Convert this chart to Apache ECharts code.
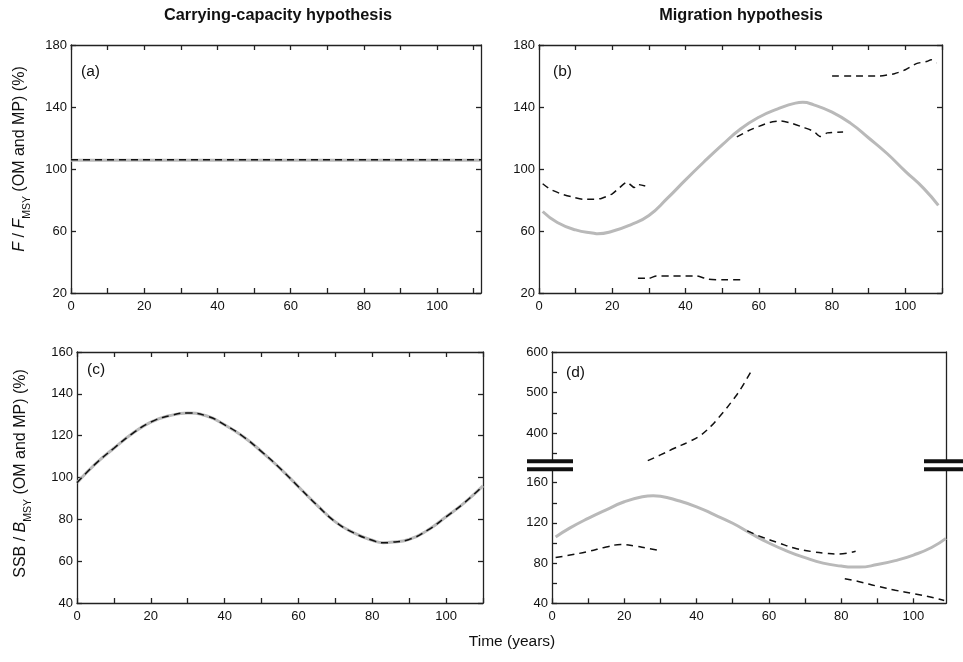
<!DOCTYPE html>
<html>
<head>
<meta charset="utf-8">
<script src="https://cdn.jsdelivr.net/npm/echarts@6/dist/echarts.min.js"></script>
<style>
  html, body { margin: 0; padding: 0; background: #fff; }
  #chart { width: 963px; height: 662px; }
</style>
</head>
<body>
<div id="chart"></div>
<script>
;(function () {
  'use strict'

  // ---- data ----
  var xTicks = [0, 10, 20, 30, 40, 50, 60, 70, 80, 90, 100, 110]
  var xLabels = [0, 20, 40, 60, 80, 100]
  var fTicks = [20, 60, 100, 140, 180]
  var cTicks = [40, 60, 80, 100, 120, 140, 160]
  var dLowTicks = [40, 60, 80, 100, 120, 140, 160]
  var dLowLabels = [40, 80, 120, 160]
  var dUpTicks = [350, 400, 450, 500, 550, 600]
  var dUpLabels = [400, 500, 600]

  // (a) carrying capacity, F/Fmsy
  var aYears = [0, 112]
  var aModel = [105.6, 105.6]
  var aProj = [106, 106]

  // (b) migration, F/Fmsy
  var bYears = [1, 5, 10, 15, 16, 20, 25, 30, 35, 40, 45, 50, 55, 60, 65, 70, 72, 75, 80, 85, 90, 95, 100, 105, 109]
  var bModel = [72.6, 65.5, 60.7, 58.5, 58.2, 59.8, 64, 70, 81, 93, 104.5, 115.5, 125.8, 133.4, 138.6, 142.5, 143, 141.4, 136.7, 129.6, 120, 110, 98.5, 87.5, 76.5]
  var bSeg1Years = [1, 3, 6, 9, 12, 15, 17, 20, 22, 24, 26, 27, 29]
  var bSeg1 = [90.5, 87, 84, 82, 80.5, 80.5, 81, 84, 88, 91.5, 88, 90, 89]
  var bSeg2Years = [27, 30, 32, 36, 40, 43, 46, 50, 55]
  var bSeg2 = [29.5, 29.5, 31, 31, 31, 31, 29, 28.5, 28.5]
  var bSeg3Years = [54, 57, 60, 63, 66, 69, 72, 75, 76.7, 78.7, 83]
  var bSeg3 = [120.7, 124.5, 127.5, 130, 131, 129.5, 127, 124.3, 121, 123.3, 123.8]
  var bSeg4Years = [80, 86, 93, 97, 100, 103, 106, 107, 108.5]
  var bSeg4 = [160, 160, 160, 161.5, 164, 168, 169.5, 170.5, 168.5]

  // (c) carrying capacity, SSB/Bmsy
  var cYears = [0, 5, 10, 15, 20, 25, 30, 35, 40, 45, 50, 55, 60, 65, 70, 75, 80, 83, 85, 90, 95, 100, 105, 110]
  var cModel = [97.5, 106.5, 114, 121, 126.5, 129.5, 130.8, 129.5, 125.2, 119.6, 112.4, 104.4, 95.6, 86.8, 78.8, 73.5, 70, 68.8, 69, 70.4, 74.8, 81.2, 88, 96]
  var cProj = [97.5, 106.5, 114, 121, 126.5, 129.5, 130.8, 129.5, 125.2, 119.6, 112.4, 104.4, 95.6, 86.8, 78.8, 73.5, 70, 68.8, 69, 70.4, 74.8, 81.2, 88, 96]

  // (d) migration, SSB/Bmsy (broken axis)
  var dYears = [1, 5, 10, 15, 20, 25, 28, 30, 35, 40, 45, 50, 55, 60, 65, 70, 75, 80, 83, 85, 90, 95, 100, 105, 109]
  var dModel = [106, 115, 124.5, 133, 141, 146, 147, 146.5, 142, 136, 128, 119.6, 109.5, 100, 92, 85.4, 80, 77, 76, 76, 78.5, 82.5, 88, 95.5, 104.6]
  var dSeg1Years = [1, 5, 10, 15, 19, 23, 26, 29]
  var dSeg1 = [85.5, 88, 91.5, 96, 98.5, 97, 95, 93]
  var dSeg2Years = [26.5, 30, 34, 38, 41, 44, 46, 48, 50, 52, 55]
  var dSeg2 = [332, 346, 363, 379, 394, 417, 437, 458, 481, 506, 551]
  var dSeg3Years = [54, 58, 63, 67, 72, 76, 79, 84]
  var dSeg3 = [112, 106, 99.7, 95, 91.4, 89.7, 89, 91.7]
  var dSeg4Years = [81, 85, 90, 95, 100, 105, 108.5]
  var dSeg4 = [64.5, 61.5, 57, 53, 49.5, 46, 42.7]

  // ---- styling ----
  var FONT = "'Liberation Sans', Arial, sans-serif"
  var INK = '#111'
  var AXIS = { color: '#222', width: 1.3 }
  var GRAY = '#b9b9b9'

  function zip(xs, ys) {
    return xs.map(function (x, i) { return [x, ys[i]] })
  }

  function upTo(list, max) {
    return list.filter(function (v) { return v <= max })
  }

  var xAxis = [], yAxis = [], series = []

  // builds a boxed panel: bottom/top x axes, left/right y axes
  function addPanel(gi, xMax, y, o) {
    var xi = xAxis.length, yi = yAxis.length
    var bottom = o.bottom !== false
    xAxis.push({
      type: 'value', gridIndex: gi, min: 0, max: xMax, position: 'bottom',
      axisLine: { show: bottom, onZero: false, lineStyle: AXIS },
      axisTick: { show: bottom, inside: true, length: 5, customValues: upTo(xTicks, xMax), lineStyle: AXIS },
      axisLabel: { show: bottom, customValues: xLabels, margin: 7, fontSize: 13, color: INK, fontFamily: FONT },
      splitLine: { show: false }
    })
    xAxis.push({
      type: 'value', gridIndex: gi, min: 0, max: xMax, position: 'top',
      axisLine: { show: o.top !== false, onZero: false, lineStyle: AXIS },
      axisTick: { show: !!o.topTicks, inside: true, length: 5, customValues: upTo(xTicks, xMax), lineStyle: AXIS },
      axisLabel: { show: false },
      splitLine: { show: false }
    })
    var left = {
      type: 'value', gridIndex: gi, min: y.min, max: y.max, position: 'left',
      axisLine: { show: true, onZero: false, lineStyle: AXIS },
      axisTick: { show: true, inside: true, length: 5, customValues: y.ticks, lineStyle: AXIS },
      axisLabel: { customValues: y.labels, margin: 4, fontSize: 13, color: INK, fontFamily: FONT },
      splitLine: { show: false }
    }
    if (y.name) {
      left.name = y.name
      left.nameLocation = 'middle'
      left.nameRotate = 90
      left.nameGap = y.nameGap
      left.nameTextStyle = {
        fontFamily: FONT, color: INK, fontSize: 16, padding: y.namePad,
        rich: {
          n: { fontFamily: FONT, fontSize: 16, color: INK, verticalAlign: 'top' },
          i: { fontFamily: FONT, fontSize: 16, color: INK, fontStyle: 'italic', verticalAlign: 'top' },
          s: { fontFamily: FONT, fontSize: 10.5, color: INK, verticalAlign: 'bottom', lineHeight: 21 }
        }
      }
    }
    yAxis.push(left)
    yAxis.push({
      type: 'value', gridIndex: gi, min: y.min, max: y.max, position: 'right',
      axisLine: { show: true, onZero: false, lineStyle: AXIS },
      axisTick: { show: !!o.rightTicks, inside: true, length: 5, customValues: y.ticks, lineStyle: AXIS },
      axisLabel: { show: false },
      splitLine: { show: false }
    })
    return { x: xi, y: yi }
  }

  function model(ax, xs, ys) {
    series.push({
      type: 'line', xAxisIndex: ax.x, yAxisIndex: ax.y, data: zip(xs, ys),
      showSymbol: false, smooth: 0.5, z: 2,
      lineStyle: { color: GRAY, width: 3 }
    })
  }

  function proj(ax, xs, ys, smooth) {
    series.push({
      type: 'line', xAxisIndex: ax.x, yAxisIndex: ax.y, data: zip(xs, ys),
      showSymbol: false, smooth: smooth, z: 3,
      lineStyle: { color: '#111', width: 1.5, type: [7, 5] }
    })
  }

  var FNAME = '{i|F}{n| / }{i|F}{s|MSY}{n| (OM and MP) (%)}'
  var BNAME = '{n|SSB / }{i|B}{s|MSY}{n| (OM and MP) (%)}'

  var pa = addPanel(0, 112, { min: 20, max: 180, ticks: fTicks, labels: fTicks, name: FNAME, nameGap: 38, namePad: [0, 0, 0, 20] },
    { topTicks: true, rightTicks: true })
  var pb = addPanel(1, 110, { min: 20, max: 180, ticks: fTicks, labels: fTicks },
    { topTicks: true, rightTicks: true })
  var pc = addPanel(2, 110, { min: 40, max: 160, ticks: cTicks, labels: cTicks, name: BNAME, nameGap: 43, namePad: [0, 0, 0, 8] },
    { topTicks: true, rightTicks: true })
  var pdUp = addPanel(3, 109, { min: 331, max: 600, ticks: dUpTicks, labels: dUpLabels },
    { bottom: false })
  var pdLow = addPanel(4, 109, { min: 40, max: 174, ticks: dLowTicks, labels: dLowLabels },
    { top: false })

  model(pa, aYears, aModel)
  proj(pa, aYears, aProj, false)

  model(pb, bYears, bModel)
  proj(pb, bSeg1Years, bSeg1, 0.2)
  proj(pb, bSeg2Years, bSeg2, 0.2)
  proj(pb, bSeg3Years, bSeg3, 0.2)
  proj(pb, bSeg4Years, bSeg4, 0.2)

  model(pc, cYears, cModel)
  proj(pc, cYears, cProj, 0.5)

  model(pdLow, dYears, dModel)
  proj(pdLow, dSeg1Years, dSeg1, 0.4)
  proj(pdUp, dSeg2Years, dSeg2, 0.5)
  proj(pdLow, dSeg3Years, dSeg3, 0.4)
  proj(pdLow, dSeg4Years, dSeg4, 0.4)

  function txt(x, y, s, font, align) {
    return {
      type: 'text', x: x, y: y, z: 10,
      style: { text: s, font: font, fill: INK, align: align || 'left', verticalAlign: 'middle' }
    }
  }
  function bar(x, y, w) {
    return { type: 'rect', z: 20, shape: { x: x, y: y, width: w, height: 4 }, style: { fill: '#111' } }
  }

  var chart = echarts.init(document.getElementById('chart'), null, { renderer: 'canvas' })
  chart.setOption({
    animation: false,
    backgroundColor: '#fff',
    grid: [
      { left: 71, top: 45, width: 410, height: 248 },
      { left: 539, top: 45, width: 403, height: 248 },
      { left: 77, top: 352, width: 406, height: 251 },
      { left: 552, top: 352, width: 394, height: 109 },
      { left: 552, top: 468.6, width: 394, height: 134.7 }
    ],
    xAxis: xAxis,
    yAxis: yAxis,
    series: series,
    graphic: [
      txt(278, 16, 'Carrying-capacity hypothesis', 'bold 16.3px ' + FONT, 'center'),
      txt(741, 16, 'Migration hypothesis', 'bold 16.3px ' + FONT, 'center'),
      txt(81, 72, '(a)', '15.5px ' + FONT),
      txt(553, 72, '(b)', '15.5px ' + FONT),
      txt(87, 370, '(c)', '15.5px ' + FONT),
      txt(566, 373, '(d)', '15.5px ' + FONT),
      txt(512, 642, 'Time (years)', '15.5px ' + FONT, 'center'),
      bar(527, 459.3, 46), bar(527, 467.3, 46),
      bar(924, 459.3, 39), bar(924, 467.3, 39)
    ]
  })
})()
</script>
</body>
</html>
